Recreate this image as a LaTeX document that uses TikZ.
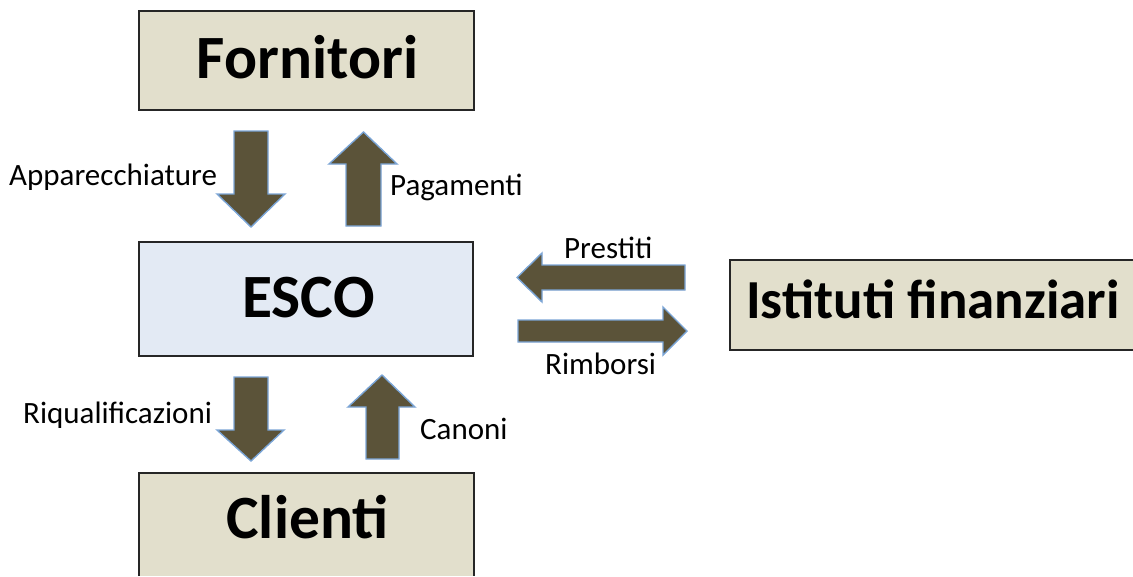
\documentclass[tikz,border=0pt]{standalone}
\usepackage{fontspec}
\setmainfont{Carlito}
\definecolor{boxbeige}{HTML}{E2DFCC}
\definecolor{boxblue}{HTML}{E3EAF4}
\definecolor{arrowfill}{HTML}{5B5339}
\definecolor{arrowline}{HTML}{7BA5D6}
\definecolor{boxline}{HTML}{262626}
\begin{document}
\begin{tikzpicture}[x=1pt,y=-1pt,
  box/.style={draw=boxline,line width=1.5pt,fill=boxbeige},
  title/.style={font=\fontsize{61.5}{62}\selectfont\bfseries,inner sep=0pt,anchor=base},
  lbl/.style={font=\fontsize{31}{32}\selectfont,inner sep=0pt,anchor=base west},
  barrow/.style={fill=arrowfill,draw=arrowline,line width=1.4pt,line join=miter}]
\useasboundingbox (0,0) rectangle (1133,576);
% boxes
\path[box] (139,11) rectangle (474,110);
\node[minimum width=335pt,minimum height=99pt] (forn) at (306.5,60.5) {};
\path[box,fill=boxblue] (139,242) rectangle (473,356);
\node[minimum width=334pt,minimum height=114pt] (esco) at (306,299) {};
\fill[boxbeige] (730,260) rectangle (1133,350);
\draw[boxline,line width=1.5pt] (1133,260) -- (730,260) -- (730,350) -- (1133,350);
\node[minimum width=403pt,minimum height=90pt] (ist) at (931.5,305) {};
\fill[boxbeige] (139,473) rectangle (474,576);
\draw[boxline,line width=1.5pt] (139,576) -- (139,473) -- (474,473) -- (474,576);
\node[minimum width=335pt,minimum height=103pt] (cli) at (306.5,524.5) {};
% titles
\node[title] (tforn) at (307.5,78) {Fornitori};
\node[title] (tesco) at (308.5,317) {ESCO};
\node[title,font=\fontsize{55}{55}\selectfont\bfseries,anchor=base west] (tist) at (746,318) {Istituti finanziari};
\node[title] (tcli) at (307.5,538) {Clienti};
% block arrows
\draw[barrow] (234,131) -- (268,131) -- (268,194) -- (285,194) -- (251,227) -- (217,194) -- (234,194) -- cycle;
\draw[barrow] (346,226) -- (346,164) -- (329,164) -- (363.5,132) -- (397,164) -- (381,164) -- (381,226) -- cycle;
\draw[barrow] (685,265) -- (542,265) -- (542,253) -- (517,277.5) -- (542,302) -- (542,290) -- (685,290) -- cycle;
\draw[barrow] (518,320) -- (663,320) -- (663,307) -- (687,331) -- (663,355) -- (663,342) -- (518,342) -- cycle;
\draw[barrow] (234,377) -- (268,377) -- (268,430) -- (284,430) -- (251,461) -- (217,430) -- (234,430) -- cycle;
\draw[barrow] (366,459) -- (366,407) -- (348,407) -- (382,375) -- (415,407) -- (399,407) -- (399,459) -- cycle;
% labels
\node[lbl] (lapp) at (9,185) {Apparecchiature};
\node[lbl] (lpag) at (390,195) {Pagamenti};
\node[lbl] (lpre) at (564,258) {Prestiti};
\node[lbl] (lrim) at (545,374) {Rimborsi};
\node[lbl] (lriq) at (23,423) {Riqualificazioni};
\node[lbl] (lcan) at (420,439) {Canoni};
\end{tikzpicture}
\end{document}
